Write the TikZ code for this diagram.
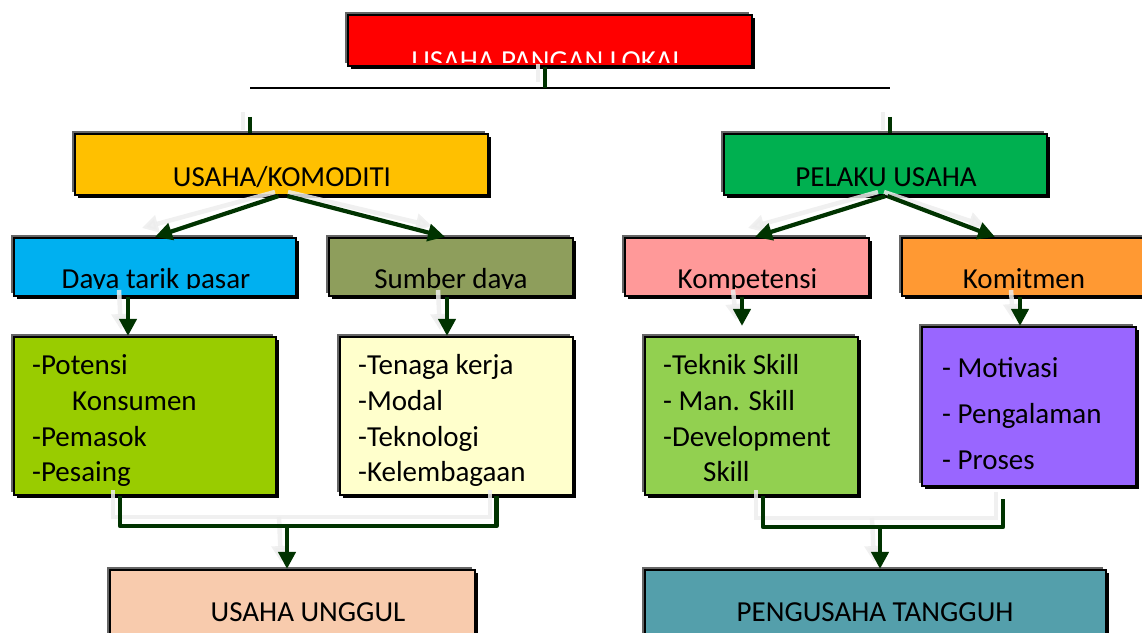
\documentclass[tikz,border=0pt]{standalone}
\usepackage{fontspec}
\setmainfont{Carlito}
\usetikzlibrary{shadows,arrows.meta}
\definecolor{cRed}{HTML}{FF0000}
\definecolor{cYellow}{HTML}{FFC000}
\definecolor{cGreen}{HTML}{00B050}
\definecolor{cBlue}{HTML}{00B0F0}
\definecolor{cOlive}{HTML}{8E9E5C}
\definecolor{cPink}{HTML}{FF9999}
\definecolor{cOrange}{HTML}{FF9933}
\definecolor{cLime}{HTML}{99CC00}
\definecolor{cCream}{HTML}{FFFFCC}
\definecolor{cLgreen}{HTML}{92D050}
\definecolor{cPurple}{HTML}{9966FF}
\definecolor{cPeach}{HTML}{F8CBAD}
\definecolor{cTeal}{HTML}{549FAB}
\definecolor{cLine}{HTML}{003300}
\begin{document}
\begin{tikzpicture}[x=1pt,y=-1pt,
  box/.style={draw=black, line width=2.2pt, inner sep=0pt,
    general shadow={shadow xshift=-3pt, shadow yshift=3pt, fill=black!60},
    general shadow={shadow xshift=3pt, shadow yshift=-3pt, fill=black}},
  txt/.style={anchor=base, inner sep=0pt, font=\fontsize{29pt}{35pt}\selectfont},
  item/.style={anchor=base west, inner sep=0pt, font=\fontsize{29pt}{35pt}\selectfont},
  conn/.style={draw=cLine, line width=4.2pt, -{Triangle[length=17pt,width=17pt]}},
  link/.style={draw=cLine, line width=4.2pt},
  ghost/.style={draw=black!7, line width=4.5pt, opacity=0.85},
  ghostarr/.style={ghost, -{Triangle[length=16pt,width=17pt]}}]
\useasboundingbox (0,0) rectangle (1142,632);
\clip (0,0) rectangle (1142,632);

% boxes
\node[box, fill=cRed, minimum width=404pt, minimum height=51pt] (top) at (550,40.5) {};
\node[box, fill=cYellow, minimum width=413pt, minimum height=61pt] (usaha) at (281.5,164.5) {};
\node[box, fill=cGreen, minimum width=323pt, minimum height=61pt] (pelaku) at (885.5,164.5) {};
\node[box, fill=cBlue, minimum width=282pt, minimum height=58pt] (daya) at (155,267) {};
\node[box, fill=cOlive, minimum width=244pt, minimum height=58pt] (sumber) at (451,267) {};
\node[box, fill=cPink, minimum width=244pt, minimum height=58pt] (kompet) at (747,267) {};
\node[box, fill=cOrange, minimum width=248pt, minimum height=58pt] (komit) at (1026,267) {};
\node[box, fill=cLime, minimum width=262pt, minimum height=158pt] (potensi) at (145,416) {};
\node[box, fill=cCream, minimum width=233pt, minimum height=158pt] (tenaga) at (456.5,416) {};
\node[box, fill=cLgreen, minimum width=213pt, minimum height=158pt] (teknik) at (751.5,416) {};
\node[box, fill=cPurple, minimum width=214pt, minimum height=159pt] (motiv) at (1029,406.5) {};
\node[box, fill=cPeach, minimum width=365pt, minimum height=80pt] (unggul) at (292.5,610) {};
\node[box, fill=cTeal, minimum width=461pt, minimum height=80pt] (tangguh) at (875.5,610) {};

% clipped titles
\begin{scope}
  \clip (348,15) rectangle (752,62);
  \node[txt, text=white] (ttop) at (548,70.5) {USAHA PANGAN LOKAL};
\end{scope}
\node[txt] (tusaha) at (282,186) {USAHA/KOMODITI};
\node[txt] (tpelaku) at (886,186) {PELAKU USAHA};
\begin{scope}
  \clip (0,238) rectangle (1142,288.5);
  \node[txt] (tdaya) at (156,288) {Daya tarik pasar};
  \node[txt] (tsumber) at (451,288) {Sumber daya};
  \node[txt] (tkompet) at (747.5,288) {Kompetensi};
  \node[txt] (tkomit) at (1024,288) {Komitmen};
\end{scope}
\node[txt] (tunggul) at (308,621) {USAHA UNGGUL};
\node[txt] (ttangguh) at (875,621) {PENGUSAHA TANGGUH};

% lists
\node[item] (p1) at (32,374) {-Potensi};
\node[item] (p2) at (72,410) {Konsumen};
\node[item] (p3) at (32,446) {-Pemasok};
\node[item] (p4) at (32,481) {-Pesaing};
\node[item] (s1) at (358,374) {-Tenaga kerja};
\node[item] (s2) at (358,410) {-Modal};
\node[item] (s3) at (358,446) {-Teknologi};
\node[item] (s4) at (358,481) {-Kelembagaan};
\node[item] (k1) at (663,374) {-Teknik Skill};
\node[item] (k2) at (663,410) {- Man. Skill};
\node[item] (k3) at (663,446) {-Development};
\node[item] (k4) at (703,481) {Skill};
\node[item] (m1) at (942,377) {- Motivasi};
\node[item] (m2) at (942,423) {- Pengalaman};
\node[item] (m3) at (942,469) {- Proses};

% ghost shadows of connectors
\draw[ghost] (538,64) -- (538,82);
\draw[ghost] (243,112) -- (243,130);
\draw[ghost] (883,112) -- (883,130);
\draw[ghostarr] (275,192) -- (142,228);
\draw[ghostarr] (288,192) -- (432,226);
\draw[ghostarr] (878,192) -- (748,228);
\draw[ghostarr] (884,192) -- (985,226);
\draw[ghostarr] (119,290) -- (121,330);
\draw[ghostarr] (438,290) -- (440,330);
\draw[ghostarr] (733,290) -- (736,320);
\draw[ghostarr] (1011,290) -- (1013,320);
\draw[ghost] (113,490) -- (113,517) -- (490,517) -- (490,490);
\draw[ghostarr] (279,517) -- (281,562);
\draw[ghost] (756,490) -- (756,518) -- (996,518) -- (996,492);
\draw[ghostarr] (872,518) -- (874,562);

% top connectors
\coordinate (hl1) at (250,88);
\coordinate (hl2) at (890,88);
\draw[black, line width=1.5pt] (hl1) -- (hl2);
\draw[link] ([xshift=-5pt]top.south) -- ([xshift=-5pt]top.south |- hl1);
\draw[link] ([xshift=-31.5pt,yshift=16pt]usaha.north) -- ([xshift=-31.5pt]usaha.north);
\draw[link] ([xshift=4.5pt,yshift=16pt]pelaku.north) -- ([xshift=4.5pt]pelaku.north);

% branch arrows
\draw[conn] ([xshift=-3pt]usaha.south) -- (daya.north);
\draw[conn] ([xshift=6pt]usaha.south) -- ([xshift=-6pt]sumber.north);
\draw[conn] (pelaku.south) -- ([xshift=8pt]kompet.north);
\draw[conn] ([xshift=2pt]pelaku.south) -- ([xshift=-31pt]komit.north);

% down arrows
\coordinate (tk) at ([yshift=10pt]teknik.north);
\draw[conn] ([xshift=-27pt]daya.south) coordinate (d1) -- (d1 |- potensi.north);
\draw[conn] ([xshift=-4pt]sumber.south) coordinate (d2) -- (d2 |- tenaga.north);
\draw[conn] ([xshift=-5pt]kompet.south) coordinate (d3) -- (d3 |- tk);
\draw[conn] ([xshift=-6pt]komit.south) coordinate (d4) -- (d4 |- motiv.north);

% merges
\draw[link, line join=round] ([xshift=-25pt]potensi.south) -- ++(0,30) coordinate (j1) -| ([xshift=40pt]tenaga.south);
\coordinate (c1) at (287,525);
\draw[conn] (c1) -- (c1 |- unggul.north);
\draw[link, line join=round] ([xshift=11.5pt]teknik.south) -- ++(0,31) coordinate (j2) -| ([xshift=-26pt,yshift=-12pt]motiv.south);
\coordinate (c2) at (880,526);
\draw[conn] (c2) -- (c2 |- tangguh.north);
\end{tikzpicture}
\end{document}
